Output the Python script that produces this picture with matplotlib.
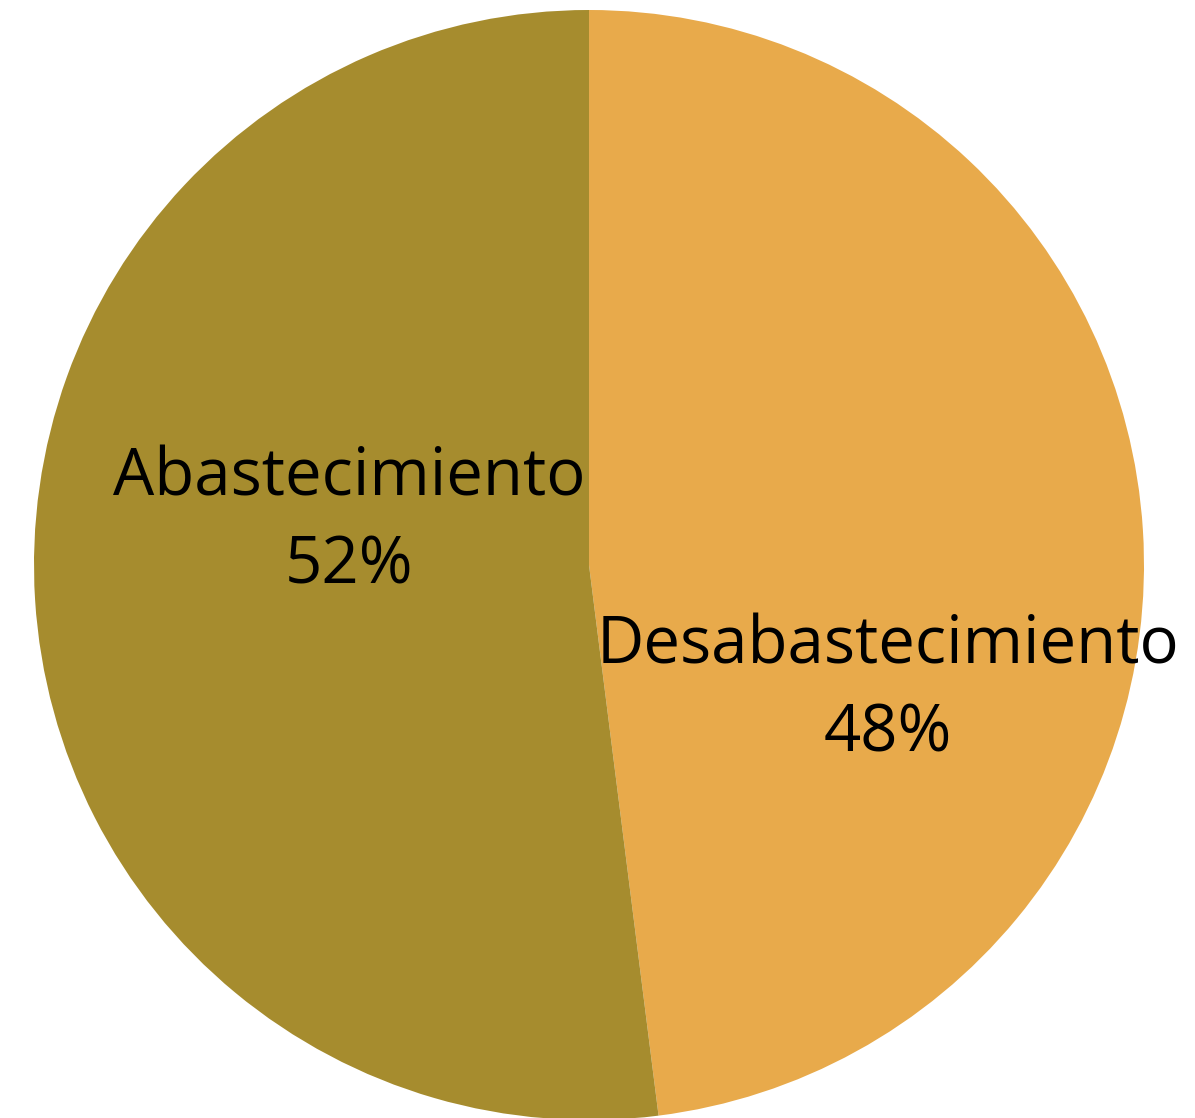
import matplotlib
matplotlib.use("Agg")
import matplotlib.pyplot as plt

categories = ["Desabastecimiento", "Abastecimiento"]
values = [48, 52]
colors = ["#E8AA4B", "#A68C2E"]

W, H = 1195, 1118
fig = plt.figure(figsize=(W/100, H/100), dpi=100)
cx, cy, R = 589, 565, 555
ax = fig.add_axes([(cx-R)/W, (H-(cy+R))/H, 2*R/W, 2*R/H])

wedges, _ = ax.pie(values, colors=colors, startangle=90, counterclock=False,
                   radius=1, wedgeprops=dict(linewidth=0))
ax.set_xlim(-1, 1)
ax.set_ylim(-1, 1)
ax.set_aspect("auto")
ax.axis("off")

label_pos = {"Desabastecimiento": (0.538, -0.227), "Abastecimiento": (-0.432, 0.077)}
for cat, v in zip(categories, values):
    x, y = label_pos[cat]
    ax.text(x, y, f"{cat}\n{v}%", ha="center", va="center", fontsize=47,
            family=["Open Sans", "DejaVu Sans"], color="black", linespacing=1.44)

fig.savefig("out.png", dpi=100)
